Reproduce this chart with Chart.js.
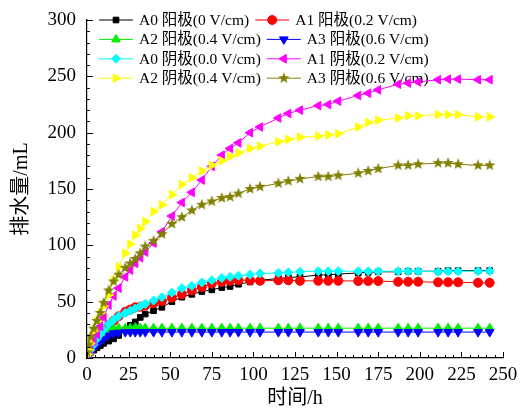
<!DOCTYPE html>
<html lang="zh-CN">
<head>
<meta charset="UTF-8">
<title>排水量</title>
<script src="https://cdn.jsdelivr.net/npm/chart.js@4.4.1/dist/chart.umd.min.js"></script>
<style>
  html, body { margin: 0; padding: 0; background: #fff; }
</style>
</head>
<body>
<canvas id="chart" width="532" height="408"></canvas>
<script>
// time (h)
const hours = [0, 1, 2, 4, 6, 8, 10, 13, 16, 19, 23, 26, 29, 32, 35, 40, 45, 51, 57, 63, 69, 75, 81, 86, 91, 98, 104,
  115, 121, 128, 139, 145, 151, 163, 169, 175, 187, 193, 199, 211, 217, 223, 235, 242];

// drainage (mL)
const a0Anode = [2, 3, 5, 7, 9, 11, 13, 15, 17, 20, 25, 29, 32, 36, 39, 42, 45, 50, 54, 56.5, 59, 60.5, 62.5, 63.5, 65.5, 67.5, 69,
  70.5, 71.5, 72, 73.5, 74, 74.5, 75.5, 76, 76.5, 76.5, 77, 77, 77, 77.5, 77.5, 77.5, 77.5];
const a1Anode = [2, 4, 6, 13, 19, 22, 25, 29, 33, 37, 41, 43, 45, 45.5, 46.5, 48.5, 50.5, 53.5, 56.5, 60, 63, 66, 67.5, 68.5, 69, 69, 68.5,
  69, 69, 68.5, 68.5, 68.5, 68.5, 68.3, 68.3, 68.3, 67.7, 67.7, 67.7, 67.2, 67.2, 67.2, 66.8, 66.8];
const a2Anode = [2, 5, 8, 13, 18, 21, 23, 25, 26, 26.5, 26.5, 26.5, 27, 26.5, 26.5, 26.5, 26.5, 26.5, 26.5, 26.5, 26.5, 26.5, 26.5, 26.5, 26.5, 26.5, 26.5,
  26.5, 26.5, 26.5, 26.5, 26.5, 26.5, 26.5, 26.5, 26.5, 26.5, 26.5, 26.5, 26.5, 26.5, 26.5, 26.5, 26.5];
const a3Anode = [1, 3, 5, 9, 12, 15, 17, 20, 22, 22.5, 23, 23, 23, 23, 23, 23, 23, 23, 23, 23, 23, 23, 23, 23, 23, 23, 23,
  23, 23, 23, 23, 23, 23, 23, 23, 23, 23, 23, 23, 23, 23, 23, 23, 23];
const a0Cathode = [2, 4, 7, 12, 17, 21, 25, 30, 34, 37, 40, 42, 44, 46, 48, 51, 54, 58, 62, 64, 67, 69, 71, 72, 73, 74, 75,
  75.5, 76, 76.5, 77, 77, 77, 77, 77, 77, 77, 77, 77, 76.5, 77, 77, 77, 77];
const a1Cathode = [3, 6, 9, 15, 21, 28, 36, 47, 55, 62, 72, 78, 84, 89, 94, 102, 112, 126, 138, 147, 158, 170, 180, 186, 191, 200, 205,
  213, 217, 220, 224, 225, 228, 233, 235, 238, 243, 244, 245, 247, 247.5, 247.5, 247, 247];
const a2Cathode = [3, 7, 13, 24, 33, 40, 46, 56, 69, 81, 93, 101, 109, 115, 121, 130, 136, 145, 154, 160, 166, 171, 175, 179, 182, 186, 188,
  192, 194, 196, 197, 198, 199, 205, 209, 211, 213, 215, 215, 216, 216, 216, 214, 214];
const a3Cathode = [5, 12, 19, 26, 33, 40, 49, 60, 68, 74, 80, 84, 88, 93, 99, 104, 110, 119, 125, 131, 136, 139, 142, 143, 146, 150, 152,
  155, 157, 159, 161, 161, 162, 164, 166, 168, 171, 171, 172, 173, 173, 172, 171, 171];

const labels = ['A0 阳极(0 V/cm)', 'A1 阳极(0.2 V/cm)', 'A2 阳极(0.4 V/cm)', 'A3 阳极(0.6 V/cm)',
  'A0 阴极(0.0 V/cm)', 'A1 阴极(0.2 V/cm)', 'A2 阴极(0.4 V/cm)', 'A3 阴极(0.6 V/cm)'];

const serif = "'Liberation Serif', 'Noto Sans CJK SC', serif";

// filled five-point star marker
function makeStar(color, size) {
  const c = document.createElement('canvas');
  c.width = size; c.height = size;
  const g = c.getContext('2d');
  const cx = size / 2, cy = size / 2, ro = size / 2, ri = ro * 0.42;
  g.beginPath();
  for (let i = 0; i < 10; i++) {
    const r = i % 2 ? ri : ro;
    const a = -Math.PI / 2 + i * Math.PI / 5;
    g.lineTo(cx + r * Math.cos(a), cy + r * Math.sin(a));
  }
  g.closePath();
  g.fillStyle = color;
  g.fill();
  return c;
}
const star = makeStar('#808000', 12);

function series(i, data, color, style, rot, radius) {
  return {
    label: labels[i],
    data: hours.map((h, k) => ({ x: h, y: data[k] })),
    borderColor: color,
    backgroundColor: color,
    pointBackgroundColor: color,
    pointBorderColor: color,
    borderWidth: 1,
    pointStyle: style,
    pointRotation: rot,
    pointRadius: radius,
    pointBorderWidth: 1,
    order: 10 - i
  };
}

const datasets = [
  series(0, a0Anode, '#000000', 'rect', 0, 4),
  series(1, a1Anode, '#ff0000', 'circle', 0, 4.5),
  series(2, a2Anode, '#00ee00', 'triangle', 0, 5),
  series(3, a3Anode, '#0000ff', 'triangle', 180, 5),
  series(4, a0Cathode, '#00ffff', 'rectRot', 0, 4.5),
  series(5, a1Cathode, '#ff00ff', 'triangle', 270, 5),
  series(6, a2Cathode, '#ffff00', 'triangle', 90, 5),
  series(7, a3Cathode, '#808000', star, 0, 6)
];

// inward major/minor ticks like the original plot
const innerTicks = {
  id: 'innerTicks',
  afterDraw(chart) {
    const { ctx, scales: { x, y } } = chart;
    ctx.save();
    ctx.strokeStyle = '#000';
    ctx.lineWidth = 1;
    ctx.beginPath();
    for (let v = 0; v <= 250; v += 5) {
      const px = Math.round(x.getPixelForValue(v)) + 0.5;
      const len = v % 25 === 0 ? 6 : 3;
      ctx.moveTo(px, y.bottom);
      ctx.lineTo(px, y.bottom - len);
    }
    for (let v = 0; v <= 300; v += 10) {
      const py = Math.round(y.getPixelForValue(v)) + 0.5;
      const len = v % 50 === 0 ? 6 : 3;
      ctx.moveTo(x.left, py);
      ctx.lineTo(x.left + len, py);
    }
    ctx.stroke();
    ctx.restore();
  }
};

// two-column legend inside the plot
const boxLegend = {
  id: 'boxLegend',
  beforeDatasetsDraw(chart) {
    const ctx = chart.ctx;
    const ds = chart.data.datasets;
    ctx.save();
    ctx.font = '15.5px ' + serif;
    ctx.textBaseline = 'middle';
    for (let row = 0; row < 4; row++) {
      const yy = 20 + row * 19.4;
      let xx = 99;
      for (let col = 0; col < 2; col++) {
        const d = ds[row * 2 + col];
        ctx.strokeStyle = d.borderColor;
        ctx.fillStyle = d.backgroundColor;
        ctx.lineWidth = 1;
        ctx.beginPath();
        ctx.moveTo(xx, yy);
        ctx.lineTo(xx + 34, yy);
        ctx.stroke();
        Chart.helpers.drawPoint(ctx, {
          pointStyle: d.pointStyle, rotation: d.pointRotation,
          radius: d.pointRadius, borderWidth: 1
        }, xx + 17, yy);
        ctx.fillStyle = '#000';
        ctx.fillText(d.label, xx + 40, yy + 1);
        xx += 40 + ctx.measureText(d.label).width + 6;
      }
    }
    ctx.restore();
  }
};

new Chart(document.getElementById('chart'), {
  type: 'line',
  data: { datasets: datasets },
  options: {
    responsive: false,
    animation: false,
    layout: { padding: { top: 20, right: 29, left: 0, bottom: 0 } },
    plugins: { legend: { display: false }, tooltip: { enabled: false } },
    elements: { line: { tension: 0 } },
    scales: {
      x: {
        type: 'linear', min: 0, max: 250,
        grid: { display: false },
        border: { display: true, color: '#000', width: 1.2 },
        ticks: { stepSize: 25, color: '#000', padding: 0, maxRotation: 0, font: { family: serif, size: 19, lineHeight: 1.0 } },
        title: { display: true, text: '时间/h', color: '#000', padding: { top: 0, bottom: 0 }, font: { family: serif, size: 20, lineHeight: 0.9 } },
        afterFit(s) { s.height = 50; }
      },
      y: {
        min: 0, max: 300,
        grid: { display: false },
        border: { display: true, color: '#000', width: 1.2 },
        ticks: { stepSize: 50, color: '#000', padding: 3, font: { family: serif, size: 19 } },
        title: { display: true, text: '排水量/mL', color: '#000', padding: { top: 10, bottom: 0 }, font: { family: serif, size: 20 } },
        afterFit(s) { s.width = 87; }
      }
    }
  },
  plugins: [innerTicks, boxLegend]
});
</script>
</body>
</html>
